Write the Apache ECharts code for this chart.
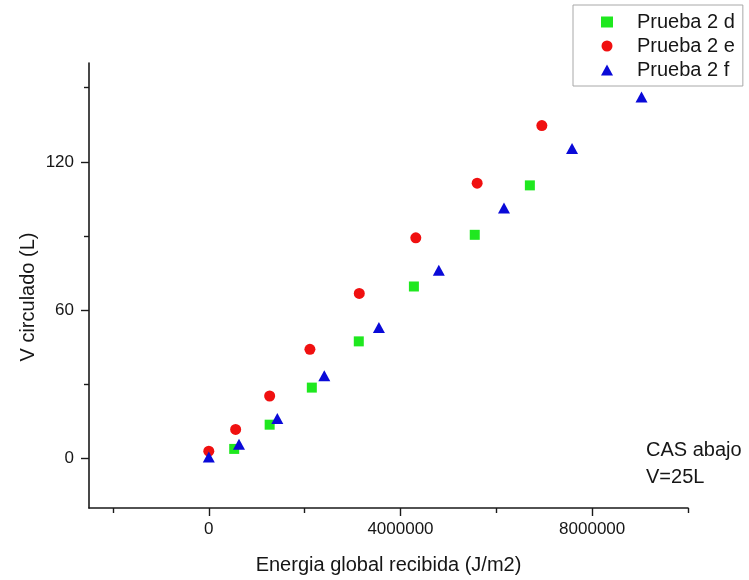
<!DOCTYPE html>
<html>
<head>
<meta charset="utf-8">
<script src="https://cdn.jsdelivr.net/npm/echarts@6/dist/echarts.min.js"></script>
<style>
  html, body { margin: 0; padding: 0; background: #ffffff; }
  #chart { width: 749px; height: 580px; }
</style>
</head>
<body>
<div id="chart"></div>
<script>
// ---- Data ----
const seriesNames = ['Prueba 2 d', 'Prueba 2 e', 'Prueba 2 f'];

const energia2d = [530000, 1270000, 2150000, 3130000, 4280000, 5550000, 6700000];
const volumen2d = [3.9, 13.7, 28.7, 47.4, 69.6, 90.5, 110.5];

const energia2e = [0, 560000, 1270000, 2110000, 3140000, 4320000, 5600000, 6950000];
const volumen2e = [3.0, 11.8, 25.3, 44.2, 66.8, 89.3, 111.4, 134.7];

const energia2f = [0, 630000, 1430000, 2410000, 3550000, 4800000, 6160000, 7580000, 9030000];
const volumen2f = [0.6, 5.8, 16.2, 33.5, 53.0, 76.2, 101.3, 125.4, 146.2];

const xTickLabels = [0, 4000000, 8000000];
const xMinorTicks = [-2000000, 2000000, 6000000, 10000000];
const yTickLabels = [0, 60, 120];
const yMinorTicks = [30, 90, 150];

const xTitle = 'Energia global recibida (J/m2)';
const yTitle = 'V circulado (L)';
const noteLines = ['CAS abajo', 'V=25L'];

// ---- Chart ----
const FONT = '"Liberation Sans", Arial, sans-serif';
const TXT = '#161616';

function pairs(xs, ys) { return xs.map((x, i) => [x, ys[i]]); }

const chart = echarts.init(document.getElementById('chart'), null, { renderer: 'canvas' });

const xMin = -2500000, xMax = 10000000, yMin = -20, yMax = 160;

chart.setOption({
  backgroundColor: '#ffffff',
  animation: false,
  grid: { left: 89, right: 61, top: 63, bottom: 71, containLabel: false },
  xAxis: [
    {
      type: 'value', min: xMin, max: xMax, position: 'bottom',
      axisLine: { show: true, onZero: false, lineStyle: { color: '#1a1a1a', width: 1.6 } },
      axisTick: { show: true, inside: false, length: 8, customValues: xTickLabels, lineStyle: { color: '#1a1a1a', width: 1.4 } },
      axisLabel: { show: true, customValues: xTickLabels, margin: 13, fontSize: 17, fontFamily: FONT, color: TXT,
                   formatter: v => String(Math.round(v)) },
      splitLine: { show: false },
      name: xTitle, nameLocation: 'middle', nameGap: 47,
      nameTextStyle: { fontSize: 20, fontFamily: FONT, color: TXT }
    },
    {
      type: 'value', min: xMin, max: xMax, position: 'bottom', offset: 0,
      axisLine: { show: false, onZero: false },
      axisTick: { show: true, inside: false, length: 5, customValues: xMinorTicks, lineStyle: { color: '#1a1a1a', width: 1.4 } },
      axisLabel: { show: false },
      splitLine: { show: false }
    }
  ],
  yAxis: [
    {
      type: 'value', min: yMin, max: yMax, position: 'left',
      axisLine: { show: true, onZero: false, lineStyle: { color: '#1a1a1a', width: 1.6 } },
      axisTick: { show: true, inside: false, length: 8, customValues: yTickLabels, lineStyle: { color: '#1a1a1a', width: 1.4 } },
      axisLabel: { show: true, customValues: yTickLabels, margin: 15, fontSize: 17, fontFamily: FONT, color: TXT },
      splitLine: { show: false }
    },
    {
      type: 'value', min: yMin, max: yMax, position: 'left', offset: 0,
      axisLine: { show: false, onZero: false },
      axisTick: { show: true, inside: false, length: 5, customValues: yMinorTicks, lineStyle: { color: '#1a1a1a', width: 1.4 } },
      axisLabel: { show: false },
      splitLine: { show: false }
    }
  ],
  legend: {
    orient: 'vertical',
    left: 573, top: 5,
    padding: [7, 8, 6, 28],
    itemGap: 4,
    itemWidth: 12, itemHeight: 11,
    borderColor: '#a8a8a8', borderWidth: 1,
    backgroundColor: '#ffffff',
    textStyle: { fontSize: 20, fontFamily: FONT, color: TXT, lineHeight: 20, padding: [0, 0, 0, 19] },
    data: [
      { name: seriesNames[0], icon: 'rect', itemStyle: { borderWidth: 0 } },
      { name: seriesNames[1], icon: 'circle' },
      { name: seriesNames[2], icon: 'triangle' }
    ]
  },
  series: [
    {
      name: seriesNames[0], type: 'scatter', xAxisIndex: 0, yAxisIndex: 0,
      symbol: 'rect', symbolSize: 10,
      itemStyle: { color: '#1fe81f', opacity: 1 },
      data: pairs(energia2d, volumen2d)
    },
    {
      name: seriesNames[1], type: 'scatter', xAxisIndex: 0, yAxisIndex: 0,
      symbol: 'circle', symbolSize: 11,
      itemStyle: { color: '#f01010', opacity: 1 },
      data: pairs(energia2e, volumen2e)
    },
    {
      name: seriesNames[2], type: 'scatter', xAxisIndex: 0, yAxisIndex: 0,
      symbol: 'triangle', symbolSize: [12, 11],
      itemStyle: { color: '#0a0ad8', opacity: 1 },
      data: pairs(energia2f, volumen2f)
    }
  ],
  graphic: [
    {
      type: 'text', x: 28, y: 297, rotation: Math.PI / 2,
      style: { text: yTitle, textAlign: 'center', textVerticalAlign: 'middle',
               fontSize: 20, fontFamily: FONT, fill: TXT }
    },
    {
      type: 'text', x: 646, y: 450,
      style: { text: noteLines[0], textAlign: 'left', textVerticalAlign: 'middle',
               fontSize: 20, fontFamily: FONT, fill: TXT }
    },
    {
      type: 'text', x: 646, y: 477,
      style: { text: noteLines[1], textAlign: 'left', textVerticalAlign: 'middle',
               fontSize: 20, fontFamily: FONT, fill: TXT }
    }
  ]
});
</script>
</body>
</html>
